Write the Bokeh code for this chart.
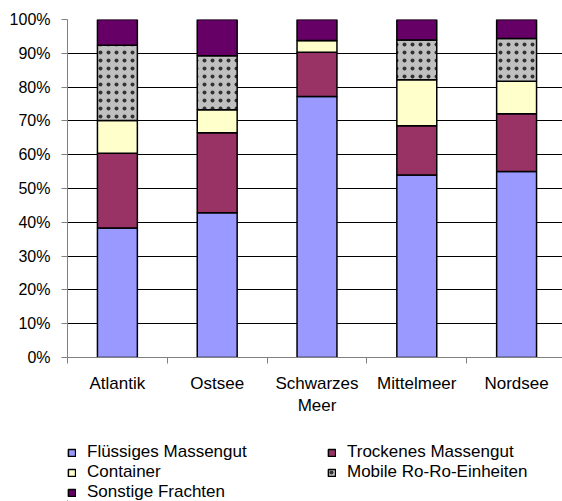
from bokeh.plotting import figure
from bokeh.layouts import column
from bokeh.models import FixedTicker, PrintfTickFormatter, Range1d, Legend, LegendItem, ColumnDataSource
from bokeh.embed import file_html
from bokeh.resources import INLINE

categories = ["Atlantik", "Ostsee", "Schwarzes\nMeer", "Mittelmeer", "Nordsee"]
fluessig = [38.3, 42.8, 77.2, 54.0, 55.0]
trocken = [22.1, 23.7, 13.1, 14.6, 17.1]
container = [9.7, 6.8, 3.5, 13.6, 9.6]
roro = [22.3, 16.0, 0.0, 11.7, 12.7]
sonstige = [7.6, 10.7, 6.2, 6.1, 5.6]
series_names = ["Flüssiges Massengut", "Trockenes Massengut", "Container",
                "Mobile Ro-Ro-Einheiten", "Sonstige Frachten"]
y_ticks = list(range(0, 101, 10))

colors = ["#9999FF", "#993366", "#FFFFCC", "#C0C0C0", "#660066"]
hatches = [" ", " ", " ", ".", " "]
keys = ["fl", "tr", "co", "ro", "so"]

centers = [i + 0.5 for i in range(len(categories))]
bounds = [float(i) for i in range(len(categories) + 1)]

source = ColumnDataSource(dict(x=centers, fl=fluessig, tr=trocken, co=container, ro=roro, so=sonstige))

font = "Liberation Sans"

p = figure(frame_width=495, frame_height=338, output_backend="svg", toolbar_location=None,
           x_range=Range1d(0, 4.96), y_range=Range1d(0, 100),
           min_border_left=67, min_border_right=0, min_border_top=19, min_border_bottom=83)
p.outline_line_color = None
p.background_fill_color = "white"
p.border_fill_color = "white"

renderers = p.vbar_stack(keys, x="x", width=0.4, source=source,
                         fill_color=colors, line_color="black", line_width=1.5,
                         hatch_pattern=hatches, hatch_color="#333333", hatch_scale=8,
                         hatch_weight=1)

# y axis
p.yaxis.ticker = FixedTicker(ticks=y_ticks)
p.yaxis.formatter = PrintfTickFormatter(format="%d%%")
p.yaxis.axis_line_color = "#808080"
p.yaxis.major_tick_line_color = "#808080"
p.yaxis.major_tick_out = 6
p.yaxis.major_tick_in = 0
p.yaxis.minor_tick_line_color = None
p.yaxis.major_label_text_font = font
p.yaxis.major_label_text_font_size = "16px"
p.yaxis.major_label_text_color = "black"
p.yaxis.major_label_standoff = 11

# x axis
p.xaxis.ticker = FixedTicker(ticks=centers, minor_ticks=bounds)
p.xaxis.major_label_overrides = {c: lab for c, lab in zip(centers, categories)}
p.xaxis.axis_line_color = "#808080"
p.xaxis.major_tick_line_color = None
p.xaxis.major_tick_out = 0
p.xaxis.major_tick_in = 0
p.xaxis.minor_tick_line_color = "#808080"
p.xaxis.minor_tick_out = 6
p.xaxis.minor_tick_in = 0
p.xaxis.major_label_text_font = font
p.xaxis.major_label_text_font_size = "17px"
p.xaxis.major_label_text_color = "black"
p.xaxis.major_label_standoff = 10

p.xgrid.grid_line_color = None
p.ygrid.ticker = FixedTicker(ticks=y_ticks)
p.ygrid.grid_line_color = "black"
p.ygrid.grid_line_width = 1

# legend panel (separate figure so the legend is not clipped)
lp = figure(width=562, height=61, output_backend="svg", toolbar_location=None,
            x_range=Range1d(0, 1), y_range=Range1d(0, 1), min_border=0,
            x_axis_type=None, y_axis_type=None)
lp.grid.visible = False
lp.outline_line_color = None
lp.border_fill_color = "white"
leg_renderers = []
for c, h in zip(colors, hatches):
    # a single off-screen bar per series, only used as the legend's swatch
    leg_renderers.append(lp.vbar(x=[-10], top=[0], width=0.4, fill_color=c, line_color="black",
                                 line_width=1.5, hatch_pattern=h, hatch_color="#333333",
                                 hatch_scale=8, hatch_weight=1))

items = [LegendItem(label=n, renderers=[r]) for n, r in zip(series_names, leg_renderers)]
legend = Legend(items=items, orientation="horizontal", ncols=2,
                location=(0, -1), glyph_width=9, glyph_height=9,
                label_standoff=11, label_width=240, spacing=0, padding=0,
                margin=0, border_line_color=None, background_fill_color=None,
                label_text_font=font, label_text_font_size="17px",
                label_text_color="black", label_height=19)
lp.add_layout(legend, "center")

layout = column(p, lp, spacing=0)
open("out.html", "w").write(file_html(layout, INLINE))
